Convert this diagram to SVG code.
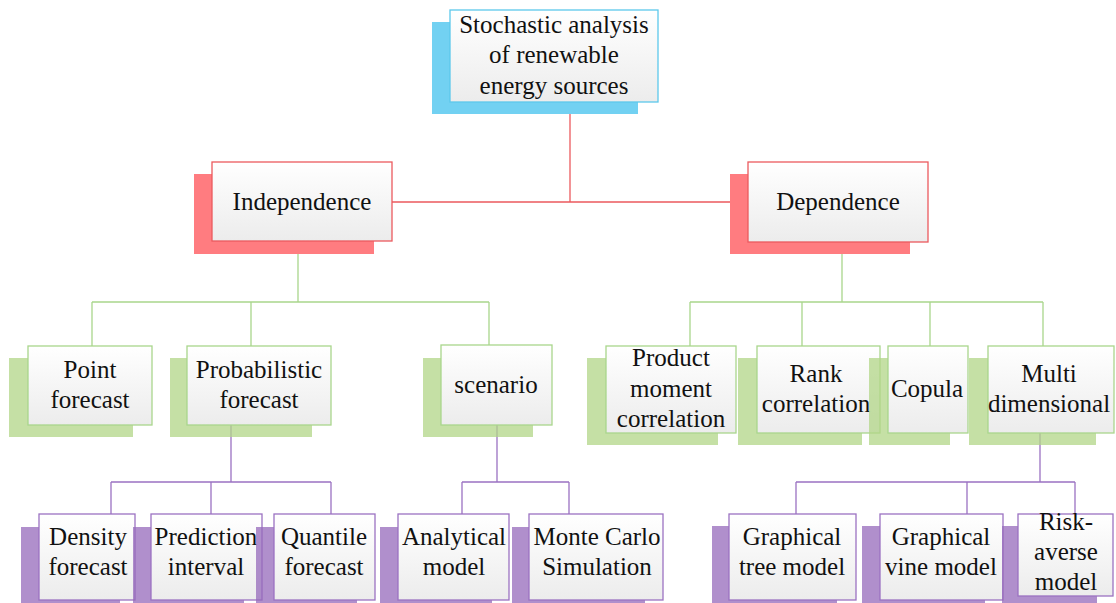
<svg xmlns="http://www.w3.org/2000/svg" width="1116" height="603" viewBox="0 0 1116 603" font-family="'Liberation Serif', 'Times New Roman', serif">
<defs>
<linearGradient id="g" x1="0" y1="0" x2="0" y2="1">
<stop offset="0" stop-color="#ffffff"/>
<stop offset="1" stop-color="#ececec"/>
</linearGradient>
<style>
text{font-family:'Liberation Serif','Times New Roman',serif;font-size:25px;fill:#111;text-anchor:middle}
.box{fill:url(#g);stroke-width:1.3}
.b .box{stroke:#5cc8ec}.b .sh{fill:#72d1f2}
.r .box{stroke:#ec5a5e}.r .sh{fill:#ff7c80}
.gr .box{stroke:#a9d68c}.gr .sh{fill:#b2d687;fill-opacity:0.75}
.p .box{stroke:#9b72c2}.p .sh{fill:#966abb;fill-opacity:0.75}
.c{fill:none;stroke-width:1.3}
.cr{stroke:#ec5a5e}.cg{stroke:#a9d68c}.cp{stroke:#9b72c2}
</style>
</defs>
<rect width="1116" height="603" fill="#fff"/>
<g id="connectors">
<path class="c cr" d="M570,102V202M392,202H748"/>
<path class="c cg" d="M298,241V302M92,302H489M92,302V346M251,302V346M489,302V345"/>
<path class="c cg" d="M842,242V302M690,302H1043M690,302V346M802,302V346M930,302V346M1043,302V346"/>
<path class="c cp" d="M231,425V482M111,482H331M111,482V514M211,482V514M331,482V514"/>
<path class="c cp" d="M497,425V482M462,482H569M462,482V514M569,482V514"/>
<path class="c cp" d="M1040,433V482M796,482H1075M796,482V514M967,482V514M1075,482V514"/>
</g>
<g id="root" class="b">
<rect class="sh" x="432" y="22" width="206" height="92"/>
<rect class="box" x="450" y="10" width="208" height="92"/>
<text x="554" y="33">Stochastic analysis</text>
<text x="554" y="63">of renewable</text>
<text x="554" y="94">energy sources</text>
</g>
<g id="independence" class="r">
<rect class="sh" x="194" y="174" width="180" height="80"/>
<rect class="box" x="212" y="162" width="180" height="79"/>
<text x="302" y="210">Independence</text>
</g>
<g id="dependence" class="r">
<rect class="sh" x="730" y="174" width="180" height="80"/>
<rect class="box" x="748" y="162" width="180" height="80"/>
<text x="838" y="210">Dependence</text>
</g>
<g id="point" class="gr">
<rect class="sh" x="9" y="358" width="124" height="79"/>
<rect class="box" x="28" y="346" width="124" height="79"/>
<text x="90" y="378">Point</text>
<text x="90" y="408">forecast</text>
</g>
<g id="probabilistic" class="gr">
<rect class="sh" x="170" y="358" width="142" height="79"/>
<rect class="box" x="187" y="346" width="144" height="79"/>
<text x="259" y="378">Probabilistic</text>
<text x="259" y="408">forecast</text>
</g>
<g id="scenario" class="gr">
<rect class="sh" x="423" y="358" width="110" height="79"/>
<rect class="box" x="441" y="345" width="111" height="80"/>
<text x="496" y="393">scenario</text>
</g>
<g id="product" class="gr">
<rect class="sh" x="587" y="358" width="131" height="87"/>
<rect class="box" x="606" y="346" width="130" height="87"/>
<text x="671" y="366">Product</text>
<text x="671" y="397">moment</text>
<text x="671" y="427">correlation</text>
</g>
<g id="rank" class="gr">
<rect class="sh" x="738" y="358" width="124" height="87"/>
<rect class="box" x="757" y="346" width="123" height="87"/>
<text x="816" y="382">Rank</text>
<text x="816" y="412">correlation</text>
</g>
<g id="copula" class="gr">
<rect class="sh" x="869" y="358" width="81" height="87"/>
<rect class="box" x="888" y="346" width="80" height="87"/>
<text x="927" y="397">Copula</text>
</g>
<g id="multi" class="gr">
<rect class="sh" x="969" y="358" width="127" height="87"/>
<rect class="box" x="988" y="346" width="126" height="87"/>
<text x="1049" y="382">Multi</text>
<text x="1049" y="412">dimensional</text>
</g>
<g id="density" class="p">
<rect class="sh" x="21" y="527" width="99" height="80"/>
<rect class="box" x="39" y="514" width="96" height="86"/>
<text x="88" y="545">Density</text>
<text x="88" y="575">forecast</text>
</g>
<g id="prediction" class="p">
<rect class="sh" x="133" y="527" width="111" height="80"/>
<rect class="box" x="151" y="514" width="111" height="86"/>
<text x="206" y="545">Prediction</text>
<text x="206" y="575">interval</text>
</g>
<g id="quantile" class="p">
<rect class="sh" x="256" y="527" width="101" height="80"/>
<rect class="box" x="274" y="514" width="101" height="86"/>
<text x="324" y="545">Quantile</text>
<text x="324" y="575">forecast</text>
</g>
<g id="analytical" class="p">
<rect class="sh" x="380" y="527" width="112" height="80"/>
<rect class="box" x="398" y="514" width="111" height="86"/>
<text x="454" y="545">Analytical</text>
<text x="454" y="575">model</text>
</g>
<g id="montecarlo" class="p">
<rect class="sh" x="512" y="527" width="133" height="80"/>
<rect class="box" x="529" y="514" width="134" height="86"/>
<text x="597" y="545">Monte Carlo</text>
<text x="597" y="575">Simulation</text>
</g>
<g id="tree" class="p">
<rect class="sh" x="712" y="526" width="125" height="80"/>
<rect class="box" x="729" y="514" width="127" height="86"/>
<text x="792" y="545">Graphical</text>
<text x="792" y="575">tree model</text>
</g>
<g id="vine" class="p">
<rect class="sh" x="862" y="526" width="123" height="80"/>
<rect class="box" x="880" y="514" width="123" height="86"/>
<text x="941" y="545">Graphical</text>
<text x="941" y="575">vine model</text>
</g>
<g id="risk" class="p">
<rect class="sh" x="1002" y="526" width="95" height="80"/>
<rect class="box" x="1018" y="514" width="95" height="82"/>
<text x="1066" y="530">Risk-</text>
<text x="1066" y="560">averse</text>
<text x="1066" y="590">model</text>
</g>
</svg>
